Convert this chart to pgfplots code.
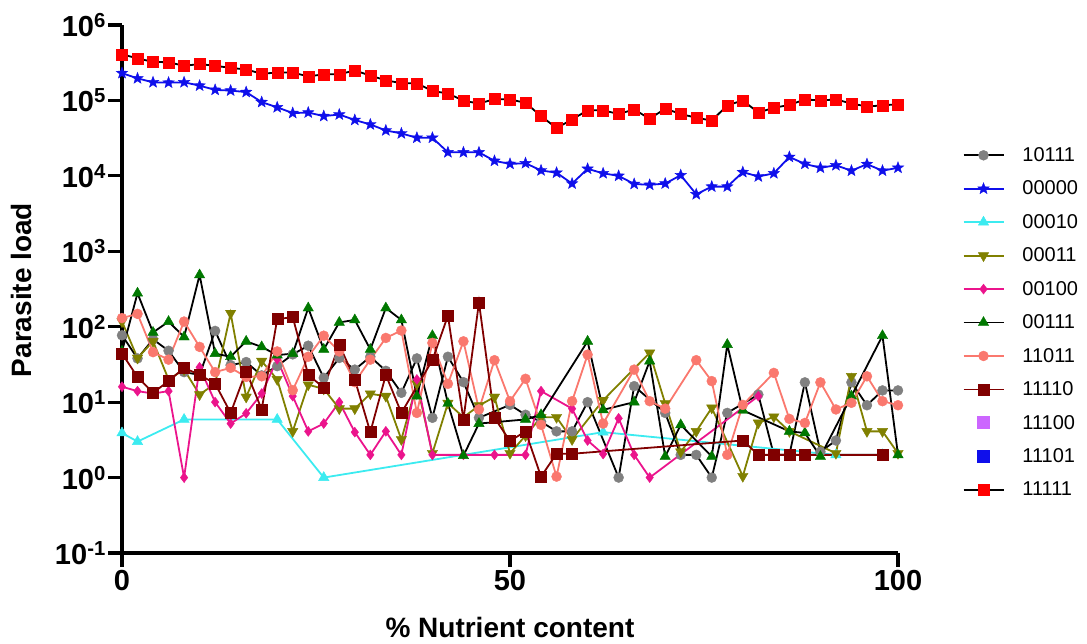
\documentclass[border=0pt]{standalone}
\usepackage{fontspec}
\setmainfont{Liberation Sans}
\usepackage{pgfplots}
\pgfplotsset{compat=1.18}
\definecolor{cgray}{RGB}{128,128,128}
\definecolor{cblue}{RGB}{15,15,235}
\definecolor{ccyan}{RGB}{60,235,240}
\definecolor{colive}{RGB}{128,128,0}
\definecolor{cpink}{RGB}{235,20,140}
\definecolor{cgreen}{RGB}{0,120,0}
\definecolor{csalmon}{RGB}{250,120,110}
\definecolor{cdred}{RGB}{128,0,0}
\definecolor{cviolet}{RGB}{204,102,255}
\definecolor{cred}{RGB}{255,0,0}
\pgfdeclareplotmark{fstar}{%
  \pgfpathmoveto{\pgfpointpolar{90}{\pgfplotmarksize}}%
  \pgfpathlineto{\pgfpointpolar{126}{0.42\pgfplotmarksize}}%
  \pgfpathlineto{\pgfpointpolar{162}{\pgfplotmarksize}}%
  \pgfpathlineto{\pgfpointpolar{198}{0.42\pgfplotmarksize}}%
  \pgfpathlineto{\pgfpointpolar{234}{\pgfplotmarksize}}%
  \pgfpathlineto{\pgfpointpolar{270}{0.42\pgfplotmarksize}}%
  \pgfpathlineto{\pgfpointpolar{306}{\pgfplotmarksize}}%
  \pgfpathlineto{\pgfpointpolar{342}{0.42\pgfplotmarksize}}%
  \pgfpathlineto{\pgfpointpolar{18}{\pgfplotmarksize}}%
  \pgfpathlineto{\pgfpointpolar{54}{0.42\pgfplotmarksize}}%
  \pgfpathclose
  \pgfusepathqfillstroke
}
\begin{document}
\begin{tikzpicture}
\path[use as bounding box] (-122bp,-91bp) rectangle (965bp,553bp);
\begin{axis}[
  scale only axis, width=776bp, height=528bp,
  at={(0,0)}, anchor=south west,
  xmin=0, xmax=100, ymode=log, ymin=0.1, ymax=1e6,
  clip=false,
  axis x line*=bottom, axis y line*=left,
  axis line style={line width=3.2bp, -},
  xtick={0,50,100}, xticklabels={0,50,100},
  ytick={1e-1,1,1e1,1e2,1e3,1e4,1e5,1e6},
  yticklabels={10\textsuperscript{-1},10\textsuperscript{0},10\textsuperscript{1},10\textsuperscript{2},10\textsuperscript{3},10\textsuperscript{4},10\textsuperscript{5},10\textsuperscript{6}},
  yminorticks=false, xminorticks=false,
  tick align=outside, major tick length=14bp,
  tick style={line width=3.2bp, black},
  tick label style={font=\fontsize{29bp}{32bp}\selectfont\bfseries},
  yticklabel style={inner sep=2bp},
  xticklabel style={inner sep=3bp},
  xlabel={\% Nutrient content},
  ylabel={Parasite load},
  label style={font=\fontsize{28bp}{32bp}\selectfont\bfseries},
  xlabel style={at={(axis description cs:0.5,-0.142)}, anchor=center},
  ylabel style={at={(axis description cs:-0.129,0.498)}, anchor=center},
  legend cell align=left,
  legend style={draw=none, fill=none, inner sep=0pt, at={(axis description cs:1.083,0.772)}, anchor=north west,
    font=\fontsize{20bp}{23bp}\selectfont, row sep=14bp,
    /tikz/every odd column/.append style={column sep=16bp}},
  legend image code/.code={\draw[mark repeat=2, mark phase=2] plot coordinates {(0bp,0bp) (20bp,0bp) (40bp,0bp)};},
  every axis plot/.append style={line width=1.8bp},
]
% 10111
\addplot[color=black, mark=*, mark size=5bp, mark options={fill=cgray, draw=cgray, solid, line width=0.4bp}] coordinates {
(0,77)(2,38)(4,68)(6,48)(8,25)(10,23)(12,88)(14,31)(16,34)(18,22.6)(20,30)(22,43)(24,56)(26,21)(28,38.5)(30,27)(32,40)(34,26)(36,13.3)(38,38)(40,6.2)(42,40)(44,18.4)(46,6.2)(50,9.2)(52,6.8)(54,5.5)(56,4.1)(58,4.1)(60,10)(64,1.0)(66,16.3)(70,7.2)(72,2)(74,2)(76,1)(78,7.2)(82,12.6)(84,2)(86,2)(88,18.3)(90,2.2)(92,3.1)(94,18.3)(96,9.1)(98,14.3)(100,14.3)};
\addlegendentry{10111}
% 00000
\addplot[color=cblue, mark=fstar, mark size=6bp, mark options={fill=cblue, draw=cblue, solid, line width=0.4bp}] coordinates {
(0,2.3e5)(2,1.96e5)(4,1.74e5)(6,1.72e5)(8,1.74e5)(10,1.57e5)(12,1.38e5)(14,1.35e5)(16,1.29e5)(18,9.5e4)(20,8.1e4)(22,6.8e4)(24,6.9e4)(26,6.2e4)(28,6.5e4)(30,5.5e4)(32,4.8e4)(34,4.0e4)(36,3.65e4)(38,3.2e4)(40,3.2e4)(42,2.05e4)(44,2.05e4)(46,2.05e4)(48,1.58e4)(50,1.44e4)(52,1.47e4)(54,1.18e4)(56,1.1e4)(58,7.9e3)(60,1.24e4)(62,1.08e4)(64,1.0e4)(66,7.8e3)(68,7.6e3)(70,7.9e3)(72,1.02e4)(74,5.7e3)(76,7.2e3)(78,7.2e3)(80,1.12e4)(82,9.8e3)(84,1.08e4)(86,1.78e4)(88,1.44e4)(90,1.28e4)(92,1.38e4)(94,1.17e4)(96,1.43e4)(98,1.17e4)(100,1.28e4)};
\addlegendentry{00000}
% 00010
\addplot[color=ccyan, mark=triangle*, mark size=6bp, mark options={fill=ccyan, draw=ccyan, solid, line width=0.4bp}] coordinates {
(0,3.9)(2,3.0)(8,5.9)(20,5.9)(26,1.0)(62,4.0)(92,2.0)(98,2.0)};
\addlegendentry{00010}
% 00011
\addplot[color=colive, mark=triangle*, mark size=6bp, mark options={fill=colive, draw=colive, solid, line width=0.4bp, rotate=180}] coordinates {
(0,117)(2,38.5)(4,64)(6,20)(8,27)(10,12.6)(12,17.6)(14,151)(16,11.7)(18,35)(20,20)(22,4.1)(24,17)(26,15)(28,8.2)(30,8.2)(32,12.9)(34,12)(36,3.2)(38,17.5)(40,2.1)(42,9.7)(44,6.3)(46,9)(48,11.7)(50,2.1)(52,3.6)(54,6.3)(56,6.3)(58,3.2)(62,10.6)(68,45)(70,9.6)(72,2.2)(74,4.1)(76,8.4)(80,1.04)(82,5.3)(84,6.4)(86,4.1)(92,2.1)(94,22)(96,4.1)(98,4.1)(100,2.1)};
\addlegendentry{00011}
% 00100
\addplot[color=cpink, mark=diamond*, mark size=5bp, mark options={fill=cpink, draw=cpink, solid, line width=0.4bp}] coordinates {
(0,16)(2,14)(4,13)(6,14)(8,1)(10,29)(12,10)(14,5.2)(16,7.1)(18,13)(20,37)(22,12)(24,4.1)(26,5.2)(28,10)(30,4.0)(32,2)(34,4.1)(36,2)(38,20)(40,2)(44,2)(48,2)(52,2)(54,14)(58,8.2)(60,3.1)(62,2.05)(64,6.1)(66,2)(68,1)(82,12)};
\addlegendentry{00100}
% 00111
\addplot[color=black, mark=triangle*, mark size=6bp, mark options={fill=cgreen, draw=cgreen, solid, line width=0.4bp}] coordinates {
(0,47)(2,278)(4,84)(6,117)(8,73)(10,485)(12,44)(14,40)(16,64)(18,54)(20,42)(22,44)(24,177)(26,50)(28,114)(30,123)(32,50)(34,177)(36,123)(38,12)(40,76)(42,9.6)(44,1.95)(46,5.2)(52,5.9)(54,6.8)(60,64)(62,7.9)(66,10)(68,35)(70,1.9)(72,5)(76,1.9)(78,58)(80,7.8)(86,4.1)(88,3.9)(90,1.9)(94,12)(98,76)(100,2)};
\addlegendentry{00111}
% 11011
\addplot[color=csalmon, mark=*, mark size=5bp, mark options={fill=csalmon, draw=csalmon, solid, line width=0.4bp}] coordinates {
(0,130)(2,148)(4,46)(6,36.6)(8,117)(10,54)(12,25)(14,28.5)(16,21.6)(18,22)(20,47)(22,14.4)(24,40)(26,76)(28,47)(30,18.4)(32,36.6)(34,71)(36,89)(38,7.2)(40,61)(42,17.5)(44,64)(46,8)(48,36)(50,10.3)(52,20.4)(54,5.0)(56,1.03)(58,10.3)(60,42.6)(62,5.2)(66,27)(68,10.3)(70,8.2)(74,36)(76,19)(78,2)(80,9.2)(84,24.4)(86,6)(88,5.3)(90,18.3)(92,8)(94,9.8)(96,22)(98,10.3)(100,9.1)};
\addlegendentry{11011}
% 11110
\addplot[color=cdred, mark=square*, mark size=5.5bp, mark options={fill=cdred, draw=cdred, solid, line width=0.4bp}] coordinates {
(0,44)(2,21.6)(4,13.3)(6,19)(8,28.5)(10,23)(12,17.6)(14,7.2)(16,25.7)(18,8)(20,126)(22,134)(24,23)(26,15.5)(28,58)(30,20)(32,4.0)(34,23)(36,7.2)(40,36)(42,140)(44,5.9)(46,210)(48,6.2)(50,3.05)(52,4.1)(54,1.03)(56,2.07)(58,2.07)(80,3.1)(82,2)(84,2)(86,2)(88,2)(98,2)};
\addlegendentry{11110}
\addlegendimage{only marks, mark=square*, mark size=5.5bp, color=cviolet}
\addlegendentry{11100}
\addlegendimage{only marks, mark=square*, mark size=5.5bp, color=cblue}
\addlegendentry{11101}
% 11111
\addplot[color=black, mark=square*, mark size=5.5bp, mark options={fill=cred, draw=cred, solid, line width=0.4bp}] coordinates {
(0,4.1e5)(2,3.6e5)(4,3.25e5)(6,3.2e5)(8,2.88e5)(10,3.03e5)(12,2.88e5)(14,2.7e5)(16,2.57e5)(18,2.26e5)(20,2.34e5)(22,2.34e5)(24,2.08e5)(26,2.22e5)(28,2.22e5)(30,2.5e5)(32,2.13e5)(34,1.85e5)(36,1.69e5)(38,1.69e5)(40,1.33e5)(42,1.24e5)(44,9.9e4)(46,9.1e4)(48,1.04e5)(50,1.03e5)(52,9.3e4)(54,6.2e4)(56,4.3e4)(58,5.6e4)(60,7.4e4)(62,7.4e4)(64,6.6e4)(66,7.6e4)(68,5.7e4)(70,7.8e4)(72,6.6e4)(74,5.9e4)(76,5.4e4)(78,8.6e4)(80,1.0e5)(82,6.9e4)(84,8.0e4)(86,8.7e4)(88,1.03e5)(90,1.0e5)(92,1.03e5)(94,9.1e4)(96,8.3e4)(98,8.6e4)(100,8.9e4)};
\addlegendentry{11111}
\end{axis}
\end{tikzpicture}
\end{document}
